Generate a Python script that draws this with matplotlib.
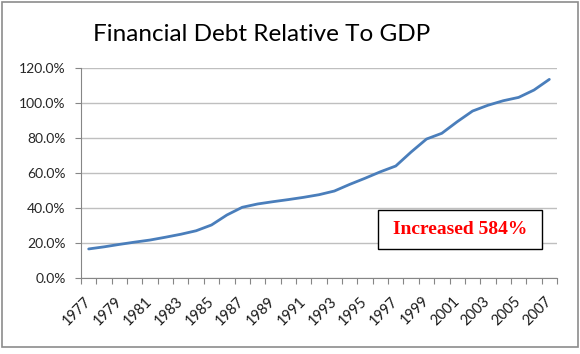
import matplotlib
matplotlib.use("Agg")
import matplotlib.pyplot as plt
from matplotlib.patches import Rectangle
from matplotlib.ticker import FixedLocator

years = list(range(1977, 2008))
debt_pct = [16.6, 17.8, 19.2, 20.5, 21.7, 23.3, 25.0, 27.0, 30.3, 36.0,
            40.4, 42.3, 43.6, 44.8, 46.1, 47.6, 49.7, 53.5, 57.0, 60.7,
            64.0, 72.0, 79.4, 82.7, 89.3, 95.4, 98.7, 101.3, 103.2, 107.4, 113.5]
y_ticks = [0, 20, 40, 60, 80, 100, 120]
title = "Financial Debt Relative To GDP"
note = "Increased 584%"

fig = plt.figure(figsize=(5.8, 3.54), dpi=100)
ax = fig.add_axes([81 / 580, 1 - 278 / 354, 476 / 580, 210 / 354])

x = list(range(len(years)))
ax.plot(x, debt_pct, color="#4a7ebb", lw=2.0, solid_capstyle="round")

ax.set_xlim(-0.5, len(years) - 0.5)
ax.set_ylim(0, 120)
ax.set_yticks(y_ticks)
ax.set_yticklabels([f"{v:.1f}%" for v in y_ticks])
ax.yaxis.grid(True, color="#bfbfbf", lw=1.0)
ax.set_axisbelow(True)

ax.set_xticks(x[::2])
ax.set_xticklabels([str(y) for y in years[::2]], rotation=45, ha="right",
                   va="center", rotation_mode="anchor")
ax.xaxis.set_minor_locator(FixedLocator([i - 0.5 for i in range(len(years) + 1)]))
ax.tick_params(axis="x", which="major", length=0, pad=15)
ax.tick_params(axis="x", which="minor", length=4, color="#868686", width=0.8)
ax.tick_params(axis="y", length=4, color="#868686", width=0.8, pad=7)
for lab in ax.get_yticklabels():
    lab.set_fontfamily(["Lato", "DejaVu Sans"])
    lab.set_fontsize(10)
    lab.set_color("#262626")
for lab in ax.get_xticklabels():
    lab.set_fontfamily(["Lato", "DejaVu Sans"])
    lab.set_fontsize(10.5)
    lab.set_color("#1a1a1a")

for s in ["top", "right"]:
    ax.spines[s].set_visible(False)
for s in ["left", "bottom"]:
    ax.spines[s].set_color("#868686")
    ax.spines[s].set_linewidth(0.8)

fig.text(262 / 580, 1 - 41 / 354, title, ha="center", va="baseline", fontsize=17.5,
         fontfamily=["Lato", "DejaVu Sans"], color="black")

# annotation box
bx0, by0, bx1, by1 = 378 / 580, 1 - 249 / 354, 542 / 580, 1 - 210 / 354
fig.patches.append(Rectangle((bx0, by0), bx1 - bx0, by1 - by0,
                             transform=fig.transFigure, facecolor="white",
                             edgecolor="black", lw=1.0, zorder=5))
fig.text((bx0 + bx1) / 2, (by0 + by1) / 2, note, ha="center", va="center",
         fontsize=14, fontweight="bold", color="red",
         fontfamily=["Liberation Serif", "DejaVu Serif"], zorder=6)

# outer border
fig.patches.append(Rectangle((2 / 580, 1 - 347 / 354), 576 / 580, 345 / 354,
                             transform=fig.transFigure, facecolor="none",
                             edgecolor="#8c8c8c", lw=1.2, zorder=0))

fig.savefig("out.png", dpi=100)
